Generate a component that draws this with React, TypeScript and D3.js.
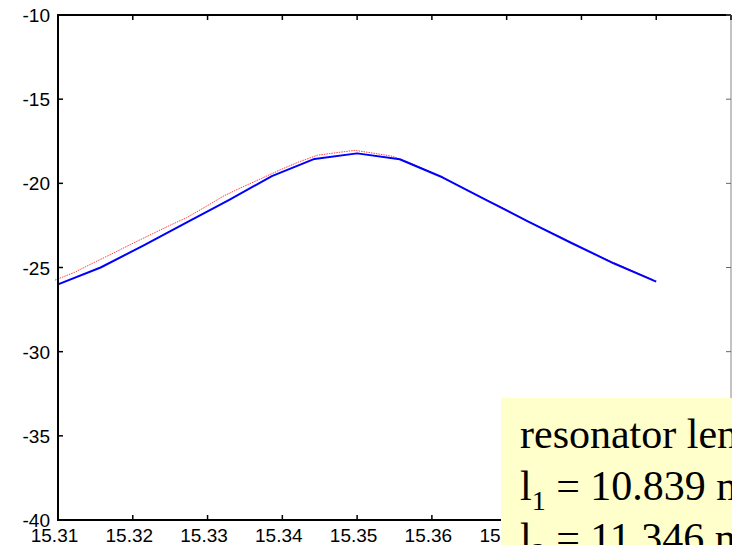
import React from "react";
import * as d3 from "d3";

const xTicks = [15.31, 15.32, 15.33, 15.34, 15.35, 15.36, 15.37, 15.38, 15.39, 15.4];
const yTicks = [-40, -35, -30, -25, -20, -15, -10];

const blueFreq = [15.31, 15.3157, 15.3214, 15.3271, 15.3329, 15.3386, 15.3443, 15.35, 15.3557, 15.3614, 15.3671, 15.3729, 15.3786, 15.3843, 15.39];
const blueVal = [-26.0, -25.0, -23.7, -22.35, -20.98, -19.57, -18.55, -18.22, -18.57, -19.64, -20.95, -22.28, -23.53, -24.75, -25.84];

const redFreq = [15.3096, 15.3122, 15.3147, 15.3172, 15.3197, 15.3222, 15.3247, 15.3272, 15.3297, 15.3322, 15.3347, 15.3372, 15.3397, 15.3422, 15.3447, 15.3472, 15.3497, 15.3522, 15.3547, 15.3572, 15.3597, 15.3622, 15.3647, 15.3672, 15.3697, 15.3722, 15.3747, 15.3772, 15.3797, 15.3822, 15.3847, 15.3872, 15.3895];
const redVal = [-25.75, -25.29, -24.73, -24.19, -23.63, -23.09, -22.55, -22.04, -21.4, -20.74, -20.21, -19.71, -19.2, -18.73, -18.33, -18.18, -18.04, -18.21, -18.39, -18.81, -19.3, -19.81, -20.39, -20.97, -21.5, -22.11, -22.67, -23.19, -23.77, -24.28, -24.79, -25.27, -25.71];

const noteLines = ["resonator lengths", "l", "l"];

export default function App() {
  const W = 732, H = 545;
  const left = 58, right = 731, top = 15, bottom = 520;
  const x = d3.scaleLinear().domain([15.31, 15.4]).range([left, right]);
  const y = d3.scaleLinear().domain([-40, -10]).range([bottom, top]);
  const line = d3.line<[number, number]>().x(d => x(d[0])).y(d => y(d[1]));
  const blue = line(blueFreq.map((f, i) => [f, blueVal[i]] as [number, number])) || "";
  const red = line(redFreq.map((f, i) => [f, redVal[i]] as [number, number])) || "";
  const tickLen = 5;
  const font = "'Liberation Sans', Arial, sans-serif";
  const serif = "'Liberation Serif', 'Times New Roman', serif";
  return (
    <svg width={W} height={H} style={{ position: "fixed", left: 0, top: 0, background: "#fff" }}>
      <rect x={0} y={0} width={W} height={H} fill="#fff" />
      <path d={red} fill="none" stroke="#ff0000" strokeWidth={1} strokeDasharray="1.5 1" opacity={0.75} />
      <path d={blue} fill="none" stroke="#0000ff" strokeWidth={2} strokeLinejoin="round" />
      {/* box */}
      <line x1={left} x2={right} y1={top} y2={top} stroke="#000" strokeWidth={2} />
      <line x1={left} x2={right} y1={bottom} y2={bottom} stroke="#000" strokeWidth={2} />
      <line x1={left} x2={left} y1={top - 1} y2={bottom + 1} stroke="#000" strokeWidth={2} />
      <line x1={right} x2={right} y1={top} y2={bottom} stroke="#888" strokeWidth={1} />
      {xTicks.map(t => (
        <g key={"xt" + t}>
          <line x1={x(t)} x2={x(t)} y1={bottom} y2={bottom - tickLen} stroke="#000" strokeWidth={1.5} />
          <line x1={x(t)} x2={x(t)} y1={top} y2={top + tickLen} stroke="#000" strokeWidth={1.5} />
          <text x={x(t) - 3.5} y={541.5} fontFamily={font} fontSize={19} textAnchor="middle" fill="#000">
            {d3.format(".2f")(t)}
          </text>
        </g>
      ))}
      {yTicks.map(t => (
        <g key={"yt" + t}>
          <line x1={left} x2={left + tickLen} y1={y(t)} y2={y(t)} stroke="#000" strokeWidth={1.5} />
          <line x1={right} x2={right - tickLen} y1={y(t)} y2={y(t)} stroke="#666" strokeWidth={1} />
          <text x={50} y={y(t) + 7} fontFamily={font} fontSize={19} textAnchor="end" fill="#000">
            {String(t)}
          </text>
        </g>
      ))}
      {/* annotation */}
      <rect x={501} y={398} width={260} height={170} fill="#ffffcc" />
      <text x={520} y={448} fontFamily={serif} fontSize={42} fill="#000">{noteLines[0]}</text>
      <text x={520} y={500} fontFamily={serif} fontSize={42} fill="#000">
        {noteLines[1]}
        <tspan fontSize={28} dy={10}>1</tspan>
        <tspan dy={-10}>{" = 10.839 mm"}</tspan>
      </text>
      <text x={520} y={552} fontFamily={serif} fontSize={42} fill="#000">
        {noteLines[2]}
        <tspan fontSize={28} dy={10}>2</tspan>
        <tspan dy={-10}>{" = 11.346 mm"}</tspan>
      </text>
    </svg>
  );
}
